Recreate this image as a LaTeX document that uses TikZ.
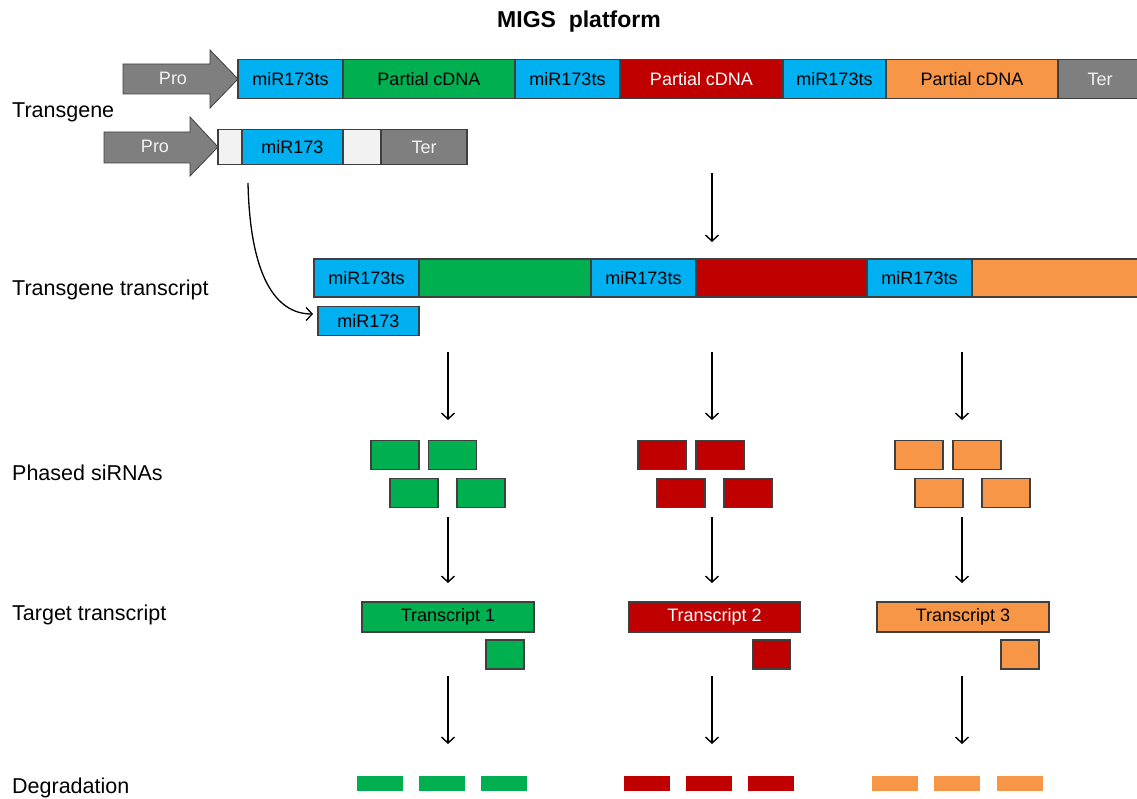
\documentclass[tikz,border=0pt]{standalone}
\usepackage{fontspec}
\setmainfont{Liberation Sans}
\usetikzlibrary{positioning,arrows.meta}

\definecolor{mirblue}{HTML}{00B0F0}
\definecolor{cdnagreen}{HTML}{00B050}
\definecolor{cdnared}{HTML}{C00000}
\definecolor{cdnaorange}{HTML}{F79646}
\definecolor{progray}{HTML}{7F7F7F}
\definecolor{spacer}{HTML}{F2F2F2}
\definecolor{edge}{HTML}{3F3F3F}

\tikzset{
  seg/.style={draw=edge, line width=1.1pt, minimum height=39pt, inner sep=0pt, outer sep=0pt,
    font=\fontsize{18}{21}\selectfont},
  lbl/.style={anchor=base west, inner sep=0pt, font=\fontsize{21.5}{25}\selectfont},
  sirna/.style={draw=edge, fill=#1, line width=1.1pt, minimum width=48pt, minimum height=29pt, inner sep=0pt},
  bar/.style={fill=#1, minimum width=46pt, minimum height=15pt, inner sep=0pt},
  prom/.style={fill=progray, draw=edge, line width=0.8pt},
  flow/.style={->, line width=1.4pt},
}

\begin{document}
\begin{tikzpicture}[x=1pt, y=-1pt, >={Straight Barb[length=6pt,width=13pt]}]
\useasboundingbox (0,0) rectangle (1137,799);

\node[anchor=base, inner sep=0pt, font=\bfseries\fontsize{23}{27}\selectfont] (title) at (579,28) {MIGS\ \ platform};

\node[lbl] (l1) at (12,118) {Transgene};
\node[lbl] (l2) at (12,296) {Transgene transcript};
\node[lbl] (l3) at (12,480) {Phased siRNAs};
\node[lbl] (l4) at (12,620) {Target transcript};
\node[lbl] (l5) at (12,793) {Degradation};

\draw[prom] (123,64) -- (210,64) -- (210,50) -- (238,79) -- (210,108) -- (210,94) -- (123,94) -- cycle;
\node[text=spacer, font=\fontsize{18}{21}\selectfont] (pro1) at (173,78) {Pro};
\node[seg, fill=mirblue, minimum width=105pt, anchor=west] (ts1) at (238,79) {miR173ts};
\node[seg, fill=cdnagreen, minimum width=172pt, right=0pt of ts1] (cd1) {Partial cDNA};
\node[seg, fill=mirblue, minimum width=105pt, right=0pt of cd1] (ts2) {miR173ts};
\node[seg, fill=cdnared, text=white, minimum width=163pt, right=0pt of ts2] (cd2) {Partial cDNA};
\node[seg, fill=mirblue, minimum width=103pt, right=0pt of cd2] (ts3) {miR173ts};
\node[seg, fill=cdnaorange, minimum width=172pt, right=0pt of ts3] (cd3) {Partial cDNA};
\node[seg, fill=progray, text=spacer, minimum width=84pt, right=0pt of cd3] (ter1) {Ter};

\draw[prom] (104,132) -- (190,132) -- (190,117) -- (218,147) -- (190,176) -- (190,163) -- (104,163) -- cycle;
\node[text=spacer, font=\fontsize{18}{21}\selectfont] (pro2) at (155,146) {Pro};
\node[seg, fill=spacer, minimum width=24pt, minimum height=35pt, anchor=west] (sp1) at (218,147) {};
\node[seg, fill=mirblue, minimum width=101pt, minimum height=35pt, right=0pt of sp1] (mirgene) {miR173};
\node[seg, fill=spacer, minimum width=38pt, minimum height=35pt, right=0pt of mirgene] (sp2) {};
\node[seg, fill=progray, text=spacer, minimum width=86pt, minimum height=35pt, right=0pt of sp2] (ter2) {Ter};

\coordinate (tg) at (712,173);
\coordinate (tt) at (712,242);
\draw[flow] (tg) -- (tt);

\node[seg, fill=mirblue, minimum width=105pt, minimum height=38pt, anchor=west] (rts1) at (314,278) {miR173ts};
\node[seg, fill=cdnagreen, minimum width=172pt, minimum height=38pt, right=0pt of rts1] (rcd1) {};
\node[seg, fill=mirblue, minimum width=105pt, minimum height=38pt, right=0pt of rcd1] (rts2) {miR173ts};
\node[seg, fill=cdnared, minimum width=171pt, minimum height=38pt, right=0pt of rts2] (rcd2) {};
\node[seg, fill=mirblue, minimum width=105pt, minimum height=38pt, right=0pt of rcd2] (rts3) {miR173ts};
\node[seg, fill=cdnaorange, minimum width=172pt, minimum height=38pt, right=0pt of rts3] (rcd3) {};

\node[seg, fill=mirblue, minimum width=101pt, minimum height=29pt, anchor=west] (mir) at (318,321) {miR173};
\coordinate (mstart) at (248,183);
\draw[flow, line width=1.3pt] (mstart) .. controls (250,275) and (275,314) .. ([xshift=-5pt,yshift=7pt]mir.west);

\coordinate (g1) at (448,352); \coordinate (g2) at (448,420);
\coordinate (r1) at (712,352); \coordinate (r2) at (712,420);
\coordinate (o1) at (962,352); \coordinate (o2) at (962,420);
\draw[flow] (g1) -- (g2);
\draw[flow] (r1) -- (r2);
\draw[flow] (o1) -- (o2);

\node[sirna=cdnagreen] (gs1) at (395,455) {};
\node[sirna=cdnagreen] (gs2) at (452.5,455) {};
\node[sirna=cdnagreen] (gs3) at (414,493) {};
\node[sirna=cdnagreen] (gs4) at (481,493) {};
\node[sirna=cdnared] (rs1) at (662,455) {};
\node[sirna=cdnared] (rs2) at (720,455) {};
\node[sirna=cdnared] (rs3) at (681,493) {};
\node[sirna=cdnared] (rs4) at (748,493) {};
\node[sirna=cdnaorange] (os1) at (919,455) {};
\node[sirna=cdnaorange] (os2) at (977,455) {};
\node[sirna=cdnaorange] (os3) at (939,493) {};
\node[sirna=cdnaorange] (os4) at (1006,493) {};

\coordinate (g3) at (448,517); \coordinate (g4) at (448,583);
\coordinate (r3) at (712,517); \coordinate (r4) at (712,583);
\coordinate (o3) at (962,517); \coordinate (o4) at (962,583);
\draw[flow] (g3) -- (g4);
\draw[flow] (r3) -- (r4);
\draw[flow] (o3) -- (o4);

\node[seg, fill=cdnagreen, minimum width=172pt, minimum height=30pt] (tr1) at (448,617) {Transcript 1};
\node[seg, fill=cdnared, text=white, minimum width=172pt, minimum height=30pt] (tr2) at (714.5,617) {Transcript 2};
\node[seg, fill=cdnaorange, minimum width=172pt, minimum height=30pt] (tr3) at (963,617) {Transcript 3};
\node[sirna=cdnagreen, minimum width=38pt] (gt) at (505,654.5) {};
\node[sirna=cdnared, minimum width=38pt] (rt) at (771.5,654.5) {};
\node[sirna=cdnaorange, minimum width=38pt] (ot) at (1020,654.5) {};

\coordinate (g5) at (448,676); \coordinate (g6) at (448,744);
\coordinate (r5) at (712,676); \coordinate (r6) at (712,744);
\coordinate (o5) at (962,676); \coordinate (o6) at (962,744);
\draw[flow] (g5) -- (g6);
\draw[flow] (r5) -- (r6);
\draw[flow] (o5) -- (o6);

\node[bar=cdnagreen] (gd1) at (380,783.5) {};
\node[bar=cdnagreen] (gd2) at (442,783.5) {};
\node[bar=cdnagreen] (gd3) at (504,783.5) {};
\node[bar=cdnared] (rd1) at (647,783.5) {};
\node[bar=cdnared] (rd2) at (709,783.5) {};
\node[bar=cdnared] (rd3) at (771,783.5) {};
\node[bar=cdnaorange] (od1) at (895,783.5) {};
\node[bar=cdnaorange] (od2) at (957,783.5) {};
\node[bar=cdnaorange] (od3) at (1019.5,783.5) {};
\end{tikzpicture}
\end{document}
